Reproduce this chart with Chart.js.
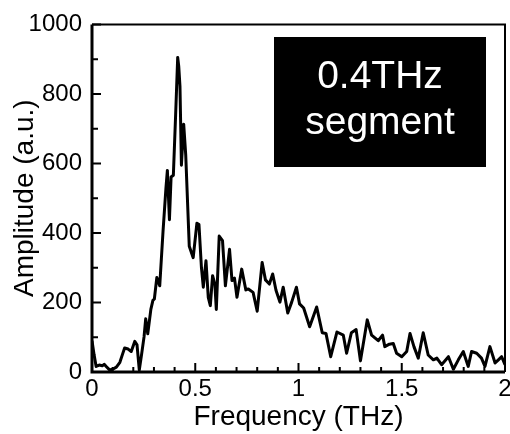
<!DOCTYPE html>
<html>
<head>
<meta charset="utf-8">
<script src="https://cdn.jsdelivr.net/npm/chart.js@4/dist/chart.umd.min.js"></script>
<style>
  html, body { margin: 0; padding: 0; background: #fff; }
  #wrap { width: 510px; height: 434px; }
</style>
</head>
<body>
<div id="wrap"><canvas id="graph"></canvas></div>
<script>
const FONT = '"Liberation Sans", Arial, sans-serif';

// spectrum of the 0.4 THz segment
const freqTHz = [
  0.000, 0.010, 0.020, 0.035, 0.050, 0.060, 0.070, 0.085, 0.100, 0.118,
  0.135, 0.150, 0.158, 0.175, 0.190, 0.207, 0.218, 0.229, 0.240, 0.252,
  0.260, 0.270, 0.285, 0.295, 0.302, 0.314, 0.328, 0.344, 0.358, 0.365,
  0.375, 0.383, 0.394, 0.405, 0.415, 0.420, 0.426, 0.433, 0.444, 0.454,
  0.471, 0.490, 0.508, 0.518, 0.530, 0.539, 0.552, 0.563, 0.573, 0.584,
  0.595, 0.602, 0.616, 0.632, 0.646, 0.666, 0.678, 0.690, 0.702, 0.725,
  0.745, 0.757, 0.780, 0.800, 0.824, 0.840, 0.859, 0.875, 0.891, 0.910,
  0.926, 0.948, 0.967, 0.990, 1.005, 1.025, 1.054, 1.088, 1.115, 1.133,
  1.156, 1.186, 1.217, 1.233, 1.256, 1.279, 1.300, 1.333, 1.354, 1.386,
  1.407, 1.418, 1.440, 1.459, 1.475, 1.500, 1.524, 1.540, 1.559, 1.580,
  1.604, 1.628, 1.653, 1.670, 1.693, 1.726, 1.750, 1.774, 1.798, 1.822,
  1.838, 1.863, 1.886, 1.903, 1.927, 1.952, 1.968, 1.984, 2.000
];
const amplitude = [
  90, 50, 16, 20, 18, 22, 15, 6, 8, 14,
  28, 55, 69, 66, 59, 88, 78, 6, 50, 101,
  153, 110, 180, 206, 210, 272, 248, 405, 528, 580,
  438, 561, 566, 740, 905, 880, 822, 595, 713, 623,
  362, 329, 428, 424, 300, 244, 320, 215, 191, 277,
  253, 180, 391, 378, 248, 353, 263, 270, 215, 296,
  236, 239, 229, 175, 315, 265, 253, 282, 235, 201,
  244, 170, 201, 244, 196, 184, 130, 187, 113, 111,
  44, 115, 106, 54, 113, 122, 32, 150, 106, 90,
  106, 73, 80, 82, 54, 44, 59, 111, 73, 40,
  113, 49, 35, 40, 21, 44, 8, 35, 59, 16,
  59, 54, 40, 16, 73, 26, 35, 44, 21
];

const xTicks = [0, 0.5, 1, 1.5, 2];
const yTicks = [0, 200, 400, 600, 800, 1000];
const boxLines = ['0.4THz', 'segment'];

// inward minor/major ticks plus the frame around the plot
const frameTicks = {
  id: 'frameTicks',
  afterDatasetsDraw(chart) {
    const { ctx, chartArea: { left, right, top, bottom }, scales: { x, y } } = chart;
    ctx.save();
    ctx.strokeStyle = '#000';
    ctx.lineWidth = 2;
    ctx.beginPath();
    for (let i = 0; i <= 20; i++) {
      const px = x.getPixelForValue(i / 10);
      const len = i % 5 === 0 ? 9 : 5;
      ctx.moveTo(px, bottom);
      ctx.lineTo(px, bottom - len);
    }
    for (let i = 0; i <= 10; i++) {
      const py = y.getPixelForValue(i * 100);
      const len = i % 2 === 0 ? 9 : 6;
      ctx.moveTo(left, py);
      ctx.lineTo(left + len, py);
    }
    ctx.stroke();

    ctx.lineWidth = 2;
    ctx.beginPath();
    ctx.moveTo(left, top);
    ctx.lineTo(right, top);
    ctx.lineTo(right, bottom);
    ctx.stroke();

    ctx.lineWidth = 3;
    ctx.beginPath();
    ctx.moveTo(left, top);
    ctx.lineTo(left, bottom);
    ctx.lineTo(right, bottom);
    ctx.stroke();
    ctx.restore();
  },
  afterDraw(chart) {
    // black label box in the upper right
    const { ctx } = chart;
    ctx.save();
    ctx.fillStyle = '#000';
    ctx.fillRect(274, 37, 212, 130);
    ctx.fillStyle = '#fff';
    ctx.font = '39px ' + FONT;
    ctx.textAlign = 'center';
    ctx.textBaseline = 'alphabetic';
    ctx.fillText(boxLines[0], 380, 88);
    ctx.fillText(boxLines[1], 380, 134);
    ctx.restore();
  }
};

new Chart(document.getElementById('graph'), {
  type: 'line',
  data: {
    datasets: [{
      data: freqTHz.map((f, i) => ({ x: f, y: amplitude[i] })),
      borderColor: '#000',
      borderWidth: 3,
      borderJoinStyle: 'round',
      pointRadius: 0,
      tension: 0,
      fill: false,
    }],
  },
  options: {
    responsive: true,
    maintainAspectRatio: false,
    animation: false,
    layout: { padding: { top: 21, right: 5, left: 0, bottom: 0 } },
    plugins: { legend: { display: false }, tooltip: { enabled: false } },
    scales: {
      x: {
        type: 'linear',
        min: 0,
        max: 2,
        grid: { display: false, drawTicks: false },
        border: { display: false },
        afterBuildTicks: (s) => { s.ticks = xTicks.map(v => ({ value: v })); },
        afterFit: (s) => { s.height = 62; s.paddingLeft = 0; s.paddingRight = 0; },
        ticks: {
          color: '#000',
          font: { family: FONT, size: 24 },
          padding: 3,
          maxRotation: 0,
          autoSkip: false,
          callback: (v) => String(v),
        },
        title: {
          display: true,
          text: 'Frequency (THz)',
          color: '#000',
          font: { family: FONT, size: 28 },
          padding: { top: 0, bottom: 0 },
        },
      },
      y: {
        min: 0,
        max: 1000,
        grid: { display: false, drawTicks: false },
        border: { display: false },
        afterBuildTicks: (s) => { s.ticks = yTicks.map(v => ({ value: v })); },
        afterFit: (s) => { s.width = 92; },
        ticks: {
          color: '#000',
          font: { family: FONT, size: 24 },
          padding: 10,
          callback: (v) => String(v),
        },
        title: {
          display: true,
          text: 'Amplitude (a.u.)',
          color: '#000',
          font: { family: FONT, size: 28 },
          padding: { top: 8, bottom: 0 },
        },
      },
    },
  },
  plugins: [frameTicks],
});
</script>
</body>
</html>
